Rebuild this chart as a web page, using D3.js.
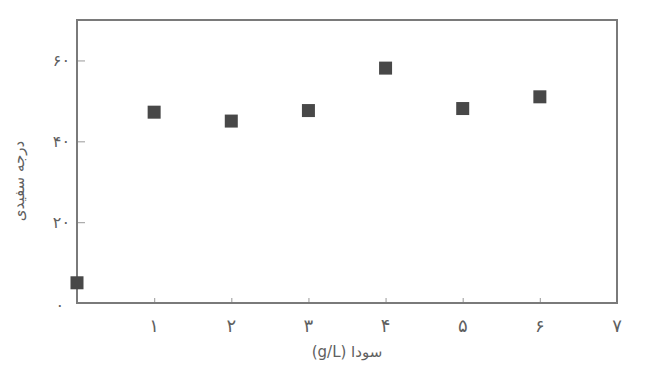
<!DOCTYPE html>
<html lang="fa">
<head>
<meta charset="utf-8">
<script src="https://cdn.jsdelivr.net/npm/d3@7"></script>
<style>
  html, body { margin: 0; padding: 0; background: #fff; }
  svg { display: block; }
  text { font-family: "DejaVu Sans", "Noto Sans", sans-serif; fill: #606060; }
</style>
</head>
<body>
<svg id="chart" width="656" height="370"></svg>
<script>
// Soda concentration (g/L) and whiteness degree
const sodaLevels = [0, 1, 2, 3, 4, 5, 6];
const whiteness = [5, 47.2, 45.0, 47.6, 58.1, 48.1, 51.0];

const xTickValues = [1, 2, 3, 4, 5, 6, 7];
const yTickValues = [0, 20, 40, 60];

const xTitle = "سودا (g/L)";
const yTitle = "درجه سفیدی";

const persianDigits = "۰۱۲۳۴۵۶۷۸۹";
const toPersian = n => String(n).replace(/\d/g, d => persianDigits[+d]);

const svg = d3.select("#chart");
const margin = { left: 77, right: 39, top: 20, bottom: 67 };
const W = 656, H = 370;

const x = d3.scaleLinear().domain([0, 7]).range([margin.left, W - margin.right]);
const y = d3.scaleLinear().domain([0, 70]).range([H - margin.bottom, margin.top]);

const frameColor = "#7a7a7a";

// x axis: inward ticks on the bottom frame
const xAxis = d3.axisBottom(x)
  .tickValues(xTickValues.filter(v => v < 7))
  .tickSize(-5)
  .tickFormat("");
svg.append("g")
  .attr("transform", `translate(0,${y(0)})`)
  .call(xAxis)
  .call(g => g.select(".domain").remove())
  .call(g => g.selectAll("line").attr("stroke", "#aaa").attr("stroke-width", 1.2));

// x tick labels
svg.append("g").selectAll("text")
  .data(xTickValues)
  .join("text")
  .attr("x", d => x(d))
  .attr("y", y(0) + 29)
  .attr("text-anchor", "middle")
  .attr("font-size", 18)
  .text(d => toPersian(d));

// y axis: inward ticks on the left frame
const yAxis = d3.axisLeft(y)
  .tickValues(yTickValues.filter(v => v > 0))
  .tickSize(-8)
  .tickFormat("");
svg.append("g")
  .attr("transform", `translate(${x(0)},0)`)
  .call(yAxis)
  .call(g => g.select(".domain").remove())
  .call(g => g.selectAll("line").attr("stroke", "#aaa").attr("stroke-width", 1.2));

// y tick labels
svg.append("g").selectAll("text")
  .data(yTickValues)
  .join("text")
  .attr("x", d => d === 0 ? x(0) - 13 : x(0) - 7)
  .attr("y", d => y(d) + (d === 0 ? 8 : 6))
  .attr("text-anchor", "end")
  .attr("font-size", 16)
  .text(d => toPersian(d));

// plot frame
svg.append("rect")
  .attr("x", x(0))
  .attr("y", y(70))
  .attr("width", x(7) - x(0))
  .attr("height", y(0) - y(70))
  .attr("fill", "none")
  .attr("stroke", frameColor)
  .attr("stroke-width", 2);

// square markers
const size = 13;
svg.append("g").selectAll("rect")
  .data(sodaLevels.map((s, i) => ({ s, w: whiteness[i] })))
  .join("rect")
  .attr("x", d => x(d.s) - size / 2)
  .attr("y", d => y(d.w) - size / 2)
  .attr("width", size)
  .attr("height", size)
  .attr("fill", "#484848");

// axis titles
svg.append("text")
  .attr("x", (x(0) + x(7)) / 2)
  .attr("y", 357)
  .attr("text-anchor", "middle")
  .attr("direction", "rtl")
  .attr("font-size", 15)
  .text(xTitle);

svg.append("text")
  .attr("transform", `translate(24,${181}) rotate(-90)`)
  .attr("text-anchor", "middle")
  .attr("direction", "rtl")
  .attr("font-size", 15)
  .text(yTitle);
</script>
</body>
</html>
